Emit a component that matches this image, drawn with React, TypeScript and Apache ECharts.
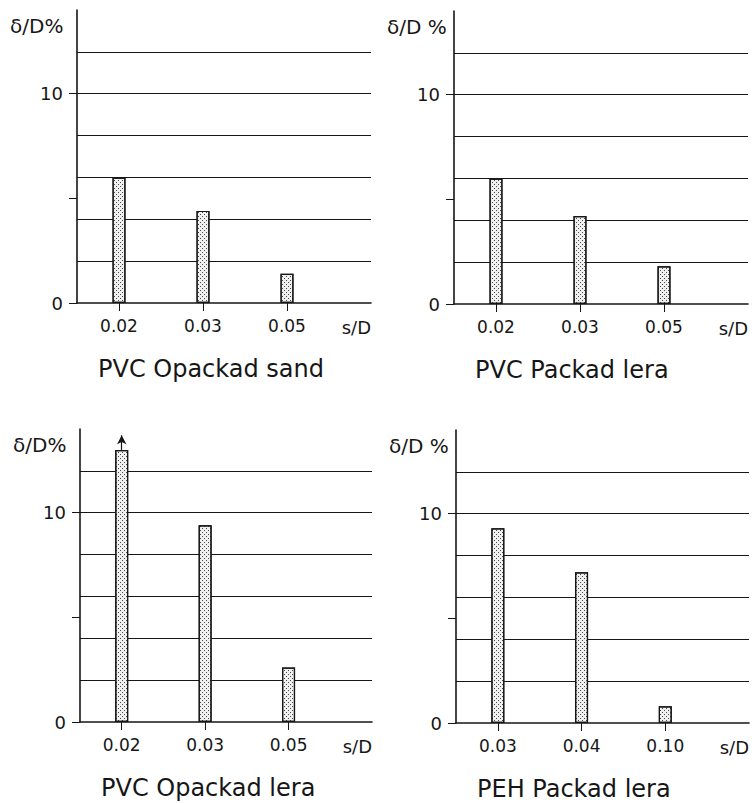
import React, { useEffect, useRef } from 'react';
import * as echarts from 'echarts';

// ---- data ----
const panelTitles = ['PVC Opackad sand', 'PVC Packad lera', 'PVC Opackad lera', 'PEH Packad lera'];
const yAxisNames = ['δ/D%', 'δ/D %', 'δ/D%', 'δ/D %'];
const xAxisName = 's/D';
const categories1 = ['0.02', '0.03', '0.05'];
const categories2 = ['0.02', '0.03', '0.05'];
const categories3 = ['0.02', '0.03', '0.05'];
const categories4 = ['0.03', '0.04', '0.10'];
const values1 = [6.0, 4.4, 1.4];
const values2 = [6.0, 4.2, 1.8];
const values3 = [13.0, 9.4, 2.6];
const values4 = [9.3, 7.2, 0.8];
// index of a bar that continues off the scale (drawn with an arrow), or -1
const offScaleBar = [-1, -1, 0, -1];
const yTickValues = [0, 5, 10];
const yLabelValues = [0, 10];
const yMax = 14;
const yGridStep = 2;

const allCategories = [categories1, categories2, categories3, categories4];
const allValues = [values1, values2, values3, values4];

// ---- layout / style ----
const INK = '#161616';
const FONT = '"DejaVu Sans", sans-serif';
const grids = [
  { left: 77, top: 10, width: 294, height: 293 },
  { left: 454, top: 11, width: 294, height: 293 },
  { left: 80, top: 429, width: 292, height: 293 },
  { left: 456, top: 430, width: 293, height: 293 },
];

export default function App() {
  const ref = useRef<HTMLDivElement>(null);

  useEffect(() => {
    document.body.style.margin = '0';
    if (!ref.current) return;
    const chart = echarts.init(ref.current, undefined, { renderer: 'svg' });

    const xAxes = allCategories.map((cats, i) => {
      const centers = cats.map((_, k) => k + 0.5);
      return {
        type: 'value',
        gridIndex: i,
        min: 0,
        max: cats.length + 0.5,
        axisLine: { show: true, onZero: false, lineStyle: { color: INK, width: 1.6 } },
        axisTick: { show: true, length: 8, inside: false, customValues: centers, lineStyle: { color: INK, width: 1 } },
        axisLabel: {
          show: true,
          customValues: centers,
          formatter: (v: number) => cats[Math.round(v - 0.5)] ?? '',
          color: INK,
          fontSize: 17,
          fontFamily: FONT,
          margin: 14,
        },
        splitLine: { show: false },
      };
    });

    const yAxes: any[] = [];
    grids.forEach((_, i) => {
      yAxes.push({
        type: 'value',
        gridIndex: i,
        position: 'left',
        min: 0,
        max: yMax,
        interval: yGridStep,
        axisLine: { show: false },
        axisTick: { show: false },
        axisLabel: { show: false },
        splitLine: {
          show: true,
          showMinLine: false,
          showMaxLine: false,
          lineStyle: { color: INK, width: 1 },
        },
      });
      yAxes.push({
        type: 'value',
        gridIndex: i,
        position: 'left',
        min: 0,
        max: yMax,
        axisLine: { show: true, onZero: false, lineStyle: { color: INK, width: 1.6 } },
        axisTick: { show: true, length: 8, customValues: yTickValues, lineStyle: { color: INK, width: 1 } },
        axisLabel: {
          show: true,
          customValues: yLabelValues,
          color: INK,
          fontSize: 18,
          fontFamily: FONT,
          margin: 14,
        },
        splitLine: { show: false },
      });
    });

    const series = allValues.map((vals, i) => {
      const s: any = {
        type: 'bar',
        xAxisIndex: i,
        yAxisIndex: 2 * i + 1,
        barWidth: 13,
        data: vals.map((v, k) => [k + 0.5, v]),
        itemStyle: {
          color: '#f0f0f0',
          borderColor: INK,
          borderWidth: 1.2,
          decal: {
            symbol: 'rect',
            symbolSize: 1,
            color: 'rgba(30,30,30,0.8)',
            dashArrayX: [[1, 3], [0, 2, 1, 1]],
            dashArrayY: [1, 1],
          },
        },
        silent: true,
      };
      const idx = offScaleBar[i];
      if (idx >= 0) {
        s.markLine = {
          silent: true,
          symbol: ['none', 'arrow'],
          symbolSize: [7, 9],
          label: { show: false },
          lineStyle: { color: INK, width: 1.2, type: 'solid' },
          data: [[{ coord: [idx + 0.5, vals[idx]] }, { coord: [idx + 0.5, vals[idx] + 0.7] }]],
        };
      }
      return s;
    });

    const graphic: any[] = [];
    grids.forEach((g, i) => {
      graphic.push({
        type: 'text',
        x: g.left - 67,
        y: g.top + 16,
        style: { text: yAxisNames[i], fill: INK, fontSize: 20, fontFamily: FONT, align: 'left', verticalAlign: 'middle' },
      });
      graphic.push({
        type: 'text',
        x: g.left + g.width,
        y: g.top + g.height + 24,
        style: { text: xAxisName, fill: INK, fontSize: 18, fontFamily: FONT, align: 'right', verticalAlign: 'middle' },
      });
      graphic.push({
        type: 'text',
        x: g.left + 21,
        y: g.top + g.height + 66,
        style: { text: panelTitles[i], fill: INK, fontSize: 24, fontFamily: FONT, align: 'left', verticalAlign: 'middle' },
      });
    });

    chart.setOption({
      animation: false,
      backgroundColor: '#ffffff',
      textStyle: { fontFamily: FONT },
      grid: grids.map((g) => ({ ...g, containLabel: false })),
      xAxis: xAxes,
      yAxis: yAxes,
      series,
      graphic,
    });

    return () => chart.dispose();
  }, []);

  return <div ref={ref} style={{ width: 752, height: 803 }} />;
}
